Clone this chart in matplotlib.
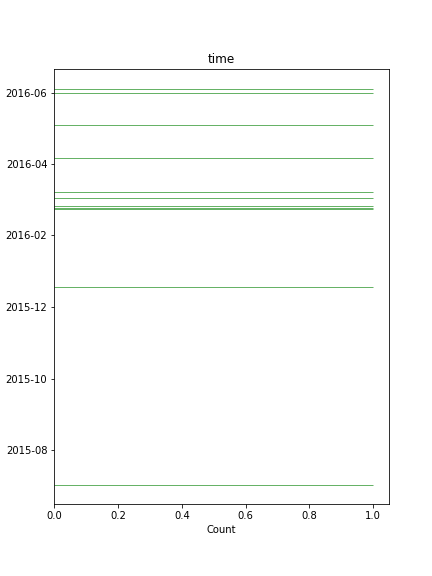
import matplotlib
matplotlib.use("Agg")
import matplotlib.pyplot as plt
import matplotlib.dates as mdates
import pandas as pd

# Event timestamps (each occurs once)
dates = pd.to_datetime([
    "2015-07-03 00:00",
    "2015-12-18 00:00",
    "2016-02-23 00:00",
    "2016-02-23 12:00",
    "2016-02-25 12:00",
    "2016-03-03 12:00",
    "2016-03-08 12:00",
    "2016-04-06 00:00",
    "2016-05-04 00:00",
    "2016-06-01 00:00",
    "2016-06-04 00:00",
], format="%Y-%m-%d %H:%M")
counts = [1] * len(dates)

fig = plt.figure(figsize=(6, 8), dpi=72)
ax = fig.add_axes([0.1257, 0.1245, 0.7752, 0.7552])

ax.hlines(dates, 0, counts, colors="green", alpha=0.6, linewidth=1)

ax.set_xlim(0, 1.05)
ax.yaxis.set_major_locator(mdates.MonthLocator(bymonth=[2, 4, 6, 8, 10, 12]))
ax.yaxis.set_major_formatter(mdates.DateFormatter("%Y-%m"))
ax.set_title("time")
ax.set_xlabel("Count")

fig.savefig("out.png", dpi=72)
